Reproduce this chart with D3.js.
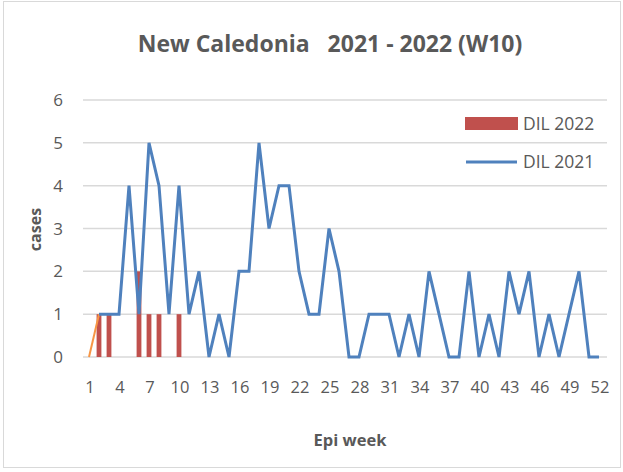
<!DOCTYPE html>
<html>
<head>
<meta charset="utf-8">
<script src="https://cdn.jsdelivr.net/npm/d3@7"></script>
<style>
  body { margin: 0; background: #fff; }
  text { font-family: "Open Sans", sans-serif; fill: #595959; }
</style>
</head>
<body>
<div id="chart"></div>
<script>
const width = 623,
height = 472,
margin = { top: 100, bottom: 115, left: 84, right: 19 }

// weeks 1..52
const weeks = d3.range(1, 53)
// DIL 2021 line, week 1 has no value
const dil2021 = [null, 1, 1, 1, 4, 1, 5, 4, 1, 4,
                 1, 2, 0, 1, 0, 2, 2, 5, 3, 4,
                 4, 2, 1, 1, 3, 2, 0, 0, 1, 1,
                 1, 0, 1, 0, 2, 1, 0, 0, 2, 0,
                 1, 0, 2, 1, 2, 0, 1, 0, 1, 2,
                 0, 0]
// DIL 2022 bars (weeks 1..10)
const dil2022 = [0, 1, 1, 0, 0, 2, 1, 1, 0, 1]
// small orange series visible at the start
const extra2022 = [0, 1]
const yTicks = [0, 1, 2, 3, 4, 5, 6]
const xTickLabels = weeks.filter(w => (w - 1) % 3 === 0)
const legendItems = ["DIL 2022", "DIL 2021"]

const red = "#c0504d", blue = "#4f81bd", orange = "#f79646"

const svg = d3.select("#chart")
    .append("svg")
    .attr("width", width)
    .attr("height", height)

// outer frame
svg.append("rect")
    .attr("x", 3.5).attr("y", 1.5)
    .attr("width", 617).attr("height", 466)
    .attr("fill", "white")
    .attr("stroke", "#d9d9d9")

const x = d3.scaleBand()
    .domain(weeks)
    .range([margin.left, width - margin.right])

const y = d3.scaleLinear()
    .domain([0, 6])
    .range([height - margin.bottom, margin.top])

//Gridlines
svg.append("g")
    .selectAll("line")
    .data(yTicks)
    .join("line")
    .attr("x1", margin.left - 1)
    .attr("x2", width - margin.right + 3)
    .attr("y1", d => y(d))
    .attr("y2", d => y(d))
    .attr("stroke", "#d9d9d9")
    .attr("stroke-width", 1.5)

//Y tick labels
svg.append("g")
    .selectAll("text")
    .data(yTicks)
    .join("text")
    .attr("x", 63)
    .attr("y", d => y(d))
    .attr("dy", "0.36em")
    .attr("text-anchor", "end")
    .attr("font-size", 17)
    .text(d => d)

//X tick labels
svg.append("g")
    .selectAll("text")
    .data(xTickLabels)
    .join("text")
    .attr("x", d => x(d) + x.bandwidth() / 2 + 1)
    .attr("y", 393)
    .attr("text-anchor", "middle")
    .attr("font-size", 16.5)
    .text(d => d)

//Bars for 2022
const barW = x.bandwidth() * 0.48
svg.append("g")
    .selectAll("rect")
    .data(dil2022.map((v, i) => ({ week: weeks[i], v })).filter(d => d.v > 0))
    .join("rect")
    .attr("x", d => x(d.week) + (x.bandwidth() - barW) / 2)
    .attr("y", d => y(d.v))
    .attr("width", barW)
    .attr("height", d => y(0) - y(d.v))
    .attr("fill", red)

const line = d3.line()
    .defined(d => d.v !== null)
    .x(d => x(d.week) + x.bandwidth() / 2)
    .y(d => y(d.v))

svg.append("path")
    .datum(extra2022.map((v, i) => ({ week: weeks[i], v })))
    .attr("d", line)
    .attr("fill", "none")
    .attr("stroke", orange)
    .attr("stroke-width", 2)

svg.append("path")
    .datum(dil2021.map((v, i) => ({ week: weeks[i], v })))
    .attr("d", line)
    .attr("fill", "none")
    .attr("stroke", blue)
    .attr("stroke-width", 3)
    .attr("stroke-linejoin", "miter")

//Legend
const legend = svg.append("g")
legend.append("rect")
    .attr("x", 465).attr("y", 117)
    .attr("width", 53).attr("height", 13)
    .attr("fill", red)
legend.append("line")
    .attr("x1", 466).attr("x2", 517)
    .attr("y1", 162).attr("y2", 162)
    .attr("stroke", blue)
    .attr("stroke-width", 3)
legend.selectAll("text.leg")
    .data(legendItems)
    .join("text")
    .attr("class", "leg")
    .attr("x", 523)
    .attr("y", (d, i) => 123.5 + i * 38.5)
    .attr("dy", "0.36em")
    .attr("font-size", 17.5)
    .text(d => d)

//Title
svg.append("text")
    .attr("x", 330)
    .attr("y", 52)
    .attr("text-anchor", "middle")
    .attr("font-size", 23)
    .attr("font-weight", "bold")
    .attr("xml:space", "preserve")
    .style("white-space", "pre")
    .text("New Caledonia   2021 - 2022 (W10)")

//Axis titles
svg.append("text")
    .attr("transform", "translate(41,229.5) rotate(-90)")
    .attr("text-anchor", "middle")
    .attr("font-size", 16)
    .attr("font-weight", "bold")
    .text("cases")

svg.append("text")
    .attr("x", 350)
    .attr("y", 446)
    .attr("text-anchor", "middle")
    .attr("font-size", 16.5)
    .attr("font-weight", "bold")
    .text("Epi week")
</script>
</body>
</html>
